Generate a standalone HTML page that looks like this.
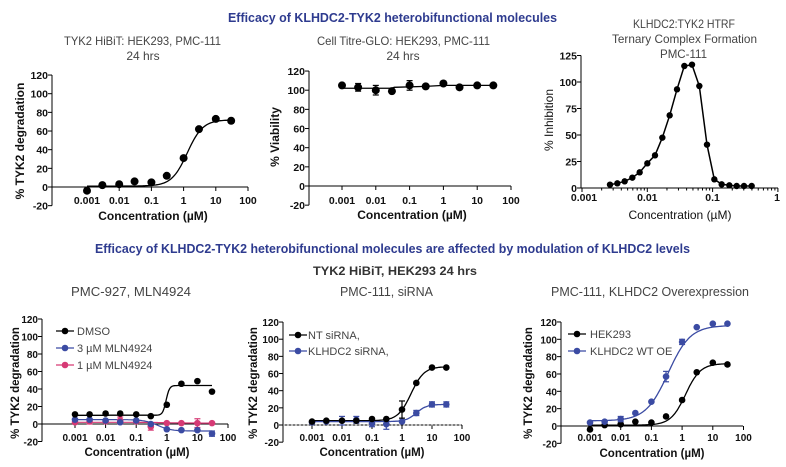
<!DOCTYPE html>
<html><head><meta charset="utf-8">
<style>
html,body{margin:0;padding:0;background:#fff;}
svg{display:block;font-family:"Liberation Sans",Arial,sans-serif;}
.tk{font-size:10.5px;font-weight:bold;fill:#111;}
.tkb{font-size:10px;font-weight:bold;fill:#111;}
.at{font-size:12px;font-weight:bold;fill:#111;}
.atb{font-size:11.5px;font-weight:bold;fill:#111;}
.st{font-size:12px;fill:#444;}
.lg{font-size:11px;fill:#444;}
.mt{font-size:13px;font-weight:bold;fill:#2e3b8f;}
</style></head>
<body>
<svg id="s" width="786" height="467" viewBox="0 0 786 467" xmlns="http://www.w3.org/2000/svg">
<rect width="786" height="467" fill="#fff"/>
<text class="mt" x="228" y="22" textLength="329" lengthAdjust="spacingAndGlyphs">Efficacy of KLHDC2-TYK2 heterobifunctional molecules</text>
<text class="mt" x="95" y="253" textLength="595" lengthAdjust="spacingAndGlyphs">Efficacy of KLHDC2-TYK2 heterobifunctional molecules are affected by modulation of KLHDC2 levels</text>
<text x="313" y="275" textLength="164" lengthAdjust="spacingAndGlyphs" style="font-size:12px;font-weight:bold;fill:#333">TYK2 HiBiT, HEK293 24 hrs</text>
<text class="st" x="64" y="45" textLength="157" lengthAdjust="spacingAndGlyphs">TYK2 HiBiT: HEK293, PMC-111</text>
<text class="st" x="143" y="60" text-anchor="middle">24 hrs</text>
<text class="st" x="317" y="45" textLength="173" lengthAdjust="spacingAndGlyphs">Cell Titre-GLO: HEK293, PMC-111</text>
<text class="st" x="403" y="60" text-anchor="middle">24 hrs</text>
<text class="st" x="633" y="28" textLength="102" lengthAdjust="spacingAndGlyphs">KLHDC2:TYK2 HTRF</text>
<text class="st" x="612" y="43" textLength="145" lengthAdjust="spacingAndGlyphs">Ternary Complex Formation</text>
<text class="st" x="660" y="58" textLength="47" lengthAdjust="spacingAndGlyphs">PMC-111</text>
<text class="st" x="71" y="296" textLength="120" lengthAdjust="spacingAndGlyphs" style="font-size:13px">PMC-927, MLN4924</text>
<text class="st" x="340" y="296" textLength="93" lengthAdjust="spacingAndGlyphs" style="font-size:13px">PMC-111, siRNA</text>
<text class="st" x="551" y="296" textLength="198" lengthAdjust="spacingAndGlyphs" style="font-size:13px">PMC-111, KLHDC2 Overexpression</text>

<g class="tk" text-anchor="end">
<text x="48" y="79">120</text><text x="48" y="97.7">100</text><text x="48" y="116.4">80</text><text x="48" y="135">60</text><text x="48" y="153.7">40</text><text x="48" y="172.3">20</text><text x="48" y="191">0</text><text x="48" y="209.7">-20</text>
</g>
<g class="tk" text-anchor="middle">
<text x="87" y="204">0.001</text><text x="119.2" y="204">0.01</text><text x="151.4" y="204">0.1</text><text x="183.6" y="204">1</text><text x="215.8" y="204">10</text><text x="248" y="204">100</text>
</g>
<text class="at" x="153" y="220" text-anchor="middle">Concentration (µM)</text>
<text class="at" transform="translate(24,141) rotate(-90)" text-anchor="middle">% TYK2 degradation</text>

<g class="tk" text-anchor="end">
<text x="305" y="75">120</text><text x="305" y="94.2">100</text><text x="305" y="113.4">80</text><text x="305" y="132.5">60</text><text x="305" y="151.7">40</text><text x="305" y="170.8">20</text><text x="305" y="190">0</text><text x="305" y="209.2">-20</text>
</g>
<g class="tk" text-anchor="middle">
<text x="342" y="204">0.001</text><text x="375.8" y="204">0.01</text><text x="409.6" y="204">0.1</text><text x="443.4" y="204">1</text><text x="477.2" y="204">10</text><text x="511" y="204">100</text>
</g>
<text class="at" x="412" y="219" text-anchor="middle">Concentration (µM)</text>
<text class="at" transform="translate(279,137) rotate(-90)" text-anchor="middle">% Viability</text>

<g class="tk" text-anchor="end">
<text x="577" y="59.5">125</text><text x="577" y="86">100</text><text x="577" y="112.5">75</text><text x="577" y="139">50</text><text x="577" y="165.5">25</text><text x="577" y="192">0</text>
</g>
<g class="tk" text-anchor="middle">
<text x="584" y="201">0.001</text><text x="647.3" y="201">0.01</text><text x="712.6" y="201">0.1</text><text x="777" y="201">1</text>
</g>
<text class="at" x="680" y="219" text-anchor="middle" style="font-weight:normal">Concentration (µM)</text>
<text class="at" transform="translate(553,120) rotate(-90)" text-anchor="middle" style="font-weight:normal">% Inhibition</text>

<g class="tkb" text-anchor="end">
<text x="38" y="323">120</text><text x="38" y="340.5">100</text><text x="38" y="358">80</text><text x="38" y="375.5">60</text><text x="38" y="393">40</text><text x="38" y="410.5">20</text><text x="38" y="428">0</text><text x="38" y="445.5">-20</text>
</g>
<g class="tkb" text-anchor="middle">
<text x="75" y="441">0.001</text><text x="105.6" y="441">0.01</text><text x="136.2" y="441">0.1</text><text x="166.8" y="441">1</text><text x="197.4" y="441">10</text><text x="228" y="441">100</text>
</g>
<text class="atb" x="137" y="456" text-anchor="middle">Concentration (µM)</text>
<text class="atb" transform="translate(19,383) rotate(-90)" text-anchor="middle">% TYK2 degradation</text>

<g class="tkb" text-anchor="end">
<text x="279" y="326">120</text><text x="279" y="343.2">100</text><text x="279" y="360.3">80</text><text x="279" y="377.5">60</text><text x="279" y="394.7">40</text><text x="279" y="411.8">20</text><text x="279" y="429">0</text><text x="279" y="446.2">-20</text>
</g>
<g class="tkb" text-anchor="middle">
<text x="312" y="441">0.001</text><text x="342" y="441">0.01</text><text x="372" y="441">0.1</text><text x="402" y="441">1</text><text x="432" y="441">10</text><text x="462" y="441">100</text>
</g>
<text class="atb" x="372" y="456" text-anchor="middle">Concentration (µM)</text>
<text class="atb" transform="translate(257,383) rotate(-90)" text-anchor="middle">% TYK2 degradation</text>

<g class="tkb" text-anchor="end">
<text x="557" y="326">120</text><text x="557" y="343.3">100</text><text x="557" y="360.7">80</text><text x="557" y="378">60</text><text x="557" y="395.3">40</text><text x="557" y="412.7">20</text><text x="557" y="430">0</text><text x="557" y="447.3">-20</text>
</g>
<g class="tkb" text-anchor="middle">
<text x="590" y="441">0.001</text><text x="620.7" y="441">0.01</text><text x="651.4" y="441">0.1</text><text x="682.1" y="441">1</text><text x="712.8" y="441">10</text><text x="743.5" y="441">100</text>
</g>
<text class="atb" x="652" y="457" text-anchor="middle">Concentration (µM)</text>
<text class="atb" transform="translate(532,383) rotate(-90)" text-anchor="middle">% TYK2 degradation</text>

<text class="lg" x="77" y="335">DMSO</text>
<text class="lg" x="77" y="352">3 µM MLN4924</text>
<text class="lg" x="77" y="369">1 µM MLN4924</text>
<text class="lg" x="308" y="339">NT siRNA,</text>
<text class="lg" x="308" y="355">KLHDC2 siRNA,</text>
<text class="lg" x="590" y="338">HEK293</text>
<text class="lg" x="590" y="355">KLHDC2 WT OE</text>
<g id="g"></g>
</svg>
<script>
var g=document.getElementById('g'),NS='http://www.w3.org/2000/svg';
function el(t,a){var e=document.createElementNS(NS,t);for(var k in a)e.setAttribute(k,a[k]);g.appendChild(e);return e;}
function L(x1,y1,x2,y2,c,w,d){var a={x1:x1,y1:y1,x2:x2,y2:y2,stroke:c||'#000','stroke-width':w||1};if(d)a['stroke-dasharray']=d;el('line',a);}
var P={
p1:{yx:52,x0:87,dec:32.2,y0:187,sy:0.933,xe:248,ticks:[-20,0,20,40,60,80,100,120],r:4},
p2:{yx:309,x0:342,dec:33.8,y0:186,sy:0.958,xe:511,ticks:[-20,0,20,40,60,80,100,120],r:4},
p3:{yx:581,x0:582,dec:65.3,y0:188,sy:1.06,xe:778,ticks:[0,25,50,75,100,125],r:3.2,minor:true},
p4:{yx:42,x0:75,dec:30.6,y0:424,sy:0.875,xe:228,ticks:[-20,0,20,40,60,80,100,120],r:3.3},
p5:{yx:283,x0:312,dec:30,y0:425,sy:0.858,xe:462,ticks:[-20,0,20,40,60,80,100,120],r:3.3},
p6:{yx:561,x0:590,dec:30.7,y0:426,sy:0.867,xe:743,ticks:[-20,0,20,40,60,80,100,120],r:3.3}};
function X(p,c){return p.x0+(Math.log10(c)+3)*p.dec;}
function Y(p,v){return p.y0-v*p.sy;}
for(var k in P){var p=P[k];var t=p.ticks;
 L(p.yx,Y(p,t[t.length-1]),p.yx,Y(p,t[0]));
 t.forEach(function(v){L(p.yx-4,Y(p,v),p.yx,Y(p,v));});
 L(p.yx,p.y0,p.xe,p.y0);
 var nd=k=='p3'?3:5;
 for(var i=0;i<=nd;i++){var x=p.x0+i*p.dec;L(x,p.y0,x,p.y0+4);
  if(p.minor&&i<nd)for(var m=2;m<10;m++){var xm=p.x0+(i+Math.log10(m))*p.dec;L(xm,p.y0,xm,p.y0+2.5);}}
}
var C=[0.001,0.003,0.01,0.03,0.1,0.3,1,3,10,30];
function sig(p,b,tp,ec,h,col,w){var d='';for(var i=0;i<=120;i++){var lc=-3+i*(Math.log10(30)+3)/120,c=Math.pow(10,lc);
 var v=b+(tp-b)/(1+Math.pow(10,(Math.log10(ec)-lc)*h));d+=(i?'L':'M')+X(p,c).toFixed(1)+' '+Y(p,v).toFixed(1);}
 el('path',{d:d,fill:'none',stroke:col,'stroke-width':w||1.3});}
function pts(p,vals,col,err){vals.forEach(function(v,i){var x=X(p,C[i]),y=Y(p,v);
 if(err&&err[i]){var e=err[i]*p.sy;L(x,y-e,x,y+e,col,1.2);L(x-3,y-e,x+3,y-e,col,1.2);L(x-3,y+e,x+3,y+e,col,1.2);}
 el('circle',{cx:x,cy:y,r:p.r,fill:col});});}
var B='#3b4ba3',K='#000',R='#d63a75';
sig(P.p1,1,72,1.3,1.8,K);pts(P.p1,[-4,2,3,6,5,12,31,62,73,71],K);
(function(p){var s=[[0.001,102],[0.03,102],[0.035,103],[0.3,104],[1,105],[30,105]],d='';s.forEach(function(q,i){d+=(i?'L':'M')+X(p,q[0])+' '+Y(p,q[1]);});
el('path',{d:d,fill:'none',stroke:K,'stroke-width':1.3});
pts(p,[105,103,100,99,105,104,107,103,105,105],K,[0,4,5,0,5,0,0,0,0,0]);})(P.p2);
(function(p){var z=[[240,524],[262,520],[284,514],[307,503],[329,487],[352,460],[375,436],[397,383],[419,316],[441,238],[463,168],[486,164],[508,228],[531,404],[553,508],[575,523],[598,526],[620,528],[642,528],[665,528]],d='';
var q=z.map(function(a){return [530+a[0]/3,10+a[1]/3];});q.forEach(function(a,i){d+=(i?'L':'M')+a[0].toFixed(1)+' '+a[1].toFixed(1);});
el('path',{d:d,fill:'none',stroke:K,'stroke-width':1.5});q.forEach(function(a){el('circle',{cx:a[0],cy:a[1],r:3.2,fill:K});});})(P.p3);
sig(P.p4,10,44,0.95,8,K);sig(P.p4,2,1,1,1,R,1.2);sig(P.p4,5,-8,0.5,2,B,1.2);
pts(P.p4,[2,3,3,4,3,-3,1,1,1,1],R,[0,3,0,4,0,4,0,0,5,0]);
pts(P.p4,[5,5,4,2,4,0,-6,-7,-7,-11],B,[0,0,0,0,0,0,0,0,0,3]);
pts(P.p4,[11,11,12,12,11,9,22,46,49,37],K);
L(P.p5.yx,P.p5.y0,P.p5.xe,P.p5.y0,'#888',1,'2,2');
sig(P.p5,5,68,2,2,K);sig(P.p5,4,24,3,2.5,B);
pts(P.p5,[3,4,5,6,2,1,4,14,24,24],B,[0,0,5,4,4,6,0,3,3,3]);
pts(P.p5,[4,5,5,5,7,7,18,49,67,67],K,[0,0,0,0,0,0,10,0,0,0]);
sig(P.p6,1,72,1.3,1.8,K);sig(P.p6,6,116,0.35,1.2,B);
pts(P.p6,[-4,1,2,5,4,11,30,62,73,71],K);
pts(P.p6,[4,5,8,15,28,57,97,114,118,118],B,[0,0,3,0,0,6,3,0,0,0]);
function lm(x,y,col){L(x-9,y,x+9,y,col,1.3);el('circle',{cx:x,cy:y,r:3.3,fill:col});}
lm(65,331,K);lm(65,348,B);lm(65,365,R);lm(298,335,K);lm(298,351,B);lm(577,334,K);lm(577,351,B);
</script>
</body></html>
